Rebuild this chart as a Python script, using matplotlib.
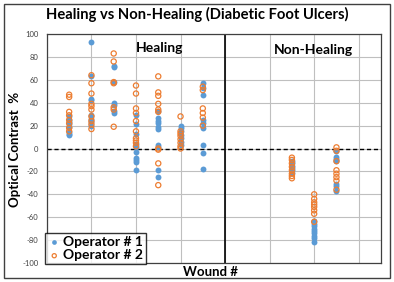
import matplotlib
matplotlib.use("Agg")
import matplotlib.pyplot as plt
from matplotlib.patches import Rectangle

plt.rcParams['font.family'] = ['Lato', 'DejaVu Sans']

# Wound positions (x units) and values
wound_pos = [0.5, 1.0, 1.5, 2.0, 2.5, 3.0, 3.5, 5.5, 6.0, 6.5]

op1 = [
    [28, 25, 23, 21, 19, 14, 12, 13],
    [93, 63, 43, 42, 29, 26, 23, 20],
    [72, 71, 58, 40, 38, 33, 31],
    [29, 21, 13, 4, 1, -3, -8, -10, -12, -19],
    [33, 27, 24, 22, 19, 17, 3, 1, -19, -25],
    [20, 18, 15, 12, 9, 6, 3],
    [57, 53, 47, 25, 22, 18, 3, -4, -18],
    [-11, -13, -15, -17, -19, -21],
    [-63, -66, -68, -70, -72, -74, -76, -78, -82],
    [-2, -7, -9, -11, -31, -33, -37],
]
op2 = [
    [47, 45, 32, 29, 25, 22, 18, 15],
    [64, 57, 48, 39, 37, 34, 28, 24, 21, 17],
    [83, 76, 58, 57, 36, 34, 19],
    [55, 48, 35, 31, 24, 15, 9, 7, 5, 2],
    [63, 49, 46, 39, 34, 32, 0, -1, -13, -32],
    [28, 15, 13, 11, 8, 5, 2, 0],
    [54, 51, 35, 31, 27, 20],
    [-8, -10, -13, -16, -19, -22, -24, -26],
    [-40, -44, -47, -49, -51, -54, -57, -64],
    [1, -2, -11, -19, -22, -25, -28, -36],
]
series_labels = ["Operator # 1", "Operator # 2"]
y_ticks = list(range(-100, 101, 20))

blue = "#5B9BD5"
orange = "#ED7D31"

fig = plt.figure(figsize=(3.94, 2.82), dpi=100)
ax = fig.add_axes([0.119, 0.0674, 0.848, 0.812])

x1 = [p for p, vals in zip(wound_pos, op1) for _ in vals]
y1 = [v for vals in op1 for v in vals]
x2 = [p for p, vals in zip(wound_pos, op2) for _ in vals]
y2 = [v for vals in op2 for v in vals]

ax.scatter(x1, y1, s=18, color=blue, zorder=3, label=series_labels[0], linewidths=0)
ax.scatter(x2, y2, s=14, facecolors='none', edgecolors=orange, linewidths=0.9,
           zorder=4, label=series_labels[1])

ax.set_xlim(0, 7.5)
ax.set_ylim(-100, 100)
ax.set_yticks(y_ticks)
ax.set_yticklabels([str(t) for t in y_ticks], fontsize=5.5, color="#404040")
ax.set_xticks(range(0, 8))
ax.set_xticklabels([])
ax.tick_params(axis='both', length=0, pad=6)
ax.grid(True, color="#BFBFBF", linewidth=0.8, zorder=0)
ax.set_axisbelow(True)
for s in ax.spines.values():
    s.set_color("#404040")
    s.set_linewidth(0.9)

ax.axhline(0, color="black", linestyle=(0, (3, 2)), linewidth=1.0, zorder=2)
ax.axvline(4, color="black", linewidth=1.2, zorder=2)

ax.text(2.52, 88, "Healing", fontsize=10, fontweight='bold', ha='center', va='center')
ax.text(5.98, 86, "Non-Healing", fontsize=10, fontweight='bold', ha='center', va='center')

fig.text(0.50, 0.95, "Healing vs Non-Healing (Diabetic Foot Ulcers)", fontsize=10.6,
         fontweight='bold', ha='center', va='center')
fig.text(0.037, 0.47, "Optical Contrast  %", fontsize=9.5, fontweight='bold',
         rotation=90, ha='center', va='center')
fig.text(0.535, 0.035, "Wound #", fontsize=9.5, fontweight='bold', ha='center', va='center')

leg = ax.legend(loc='lower left', bbox_to_anchor=(-0.005, -0.005),
                prop={'weight': 'bold', 'size': 10}, frameon=True, fancybox=False,
                edgecolor='black', handletextpad=0.2, borderpad=0.2,
                labelspacing=0.1, handlelength=0.9, borderaxespad=0,
                markerscale=0.8)
leg.get_frame().set_linewidth(1.0)

fig.patches.append(Rectangle((0.01, 0.015), 0.98, 0.97, transform=fig.transFigure,
                             fill=False, edgecolor='#404040', linewidth=1.0))

fig.savefig("out.png", dpi=100)
